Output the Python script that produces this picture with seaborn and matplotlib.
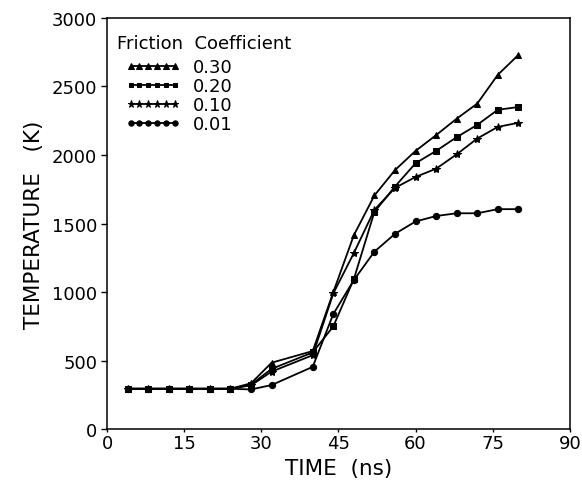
import numpy as np
import pandas as pd
import matplotlib
matplotlib.use("Agg")
import matplotlib.pyplot as plt
import seaborn as sns

# === Data ===
time_ns = [4, 8, 12, 16, 20, 24, 28, 32, 40, 44, 48, 52, 56, 60, 64, 68, 72, 76, 80]
temp_030 = [295, 295, 295, 295, 295, 295, 335, 485, 570, 1000, 1415, 1705, 1890, 2030, 2145, 2265, 2375, 2585, 2730]
temp_020 = [295, 295, 295, 295, 295, 295, 325, 440, 560, 750, 1095, 1585, 1770, 1940, 2030, 2130, 2220, 2330, 2350]
temp_010 = [295, 295, 295, 295, 295, 295, 320, 420, 540, 990, 1285, 1600, 1760, 1840, 1900, 2005, 2120, 2205, 2235]
temp_001 = [295, 295, 295, 295, 295, 295, 290, 322, 455, 840, 1088, 1295, 1425, 1515, 1555, 1575, 1575, 1605, 1605]

coefs = ["0.30", "0.20", "0.10", "0.01"]
series = [temp_030, temp_020, temp_010, temp_001]
markers = ["^", "s", "*", "o"]
msizes = [5, 4, 6, 4.5]

rows = []
for c, vals in zip(coefs, series):
    for t, v in zip(time_ns, vals):
        rows.append({"time": t, "temp": v, "coef": c})
df = pd.DataFrame(rows)

sns.set_style("ticks")
plt.rcParams['font.family'] = ['DejaVu Sans']
plt.rcParams['text.color'] = 'black'
plt.rcParams['axes.labelcolor'] = 'black'

fig = plt.figure(figsize=(5.82, 4.85), dpi=100)
ax = fig.add_axes([0.184, 0.113, 0.795, 0.848])

for c, m, ms in zip(coefs, markers, msizes):
    sns.lineplot(data=df[df["coef"] == c], x="time", y="temp", ax=ax,
                 color="black", marker=m, markersize=ms, markeredgecolor="black",
                 linewidth=1.3, label=c)

ax.set_xlim(0, 90)
ax.set_ylim(0, 3000)
ax.set_xticks(range(0, 91, 15))
ax.set_yticks(range(0, 3001, 500))
ax.tick_params(axis="both", labelsize=13, colors="black", width=1)
ax.tick_params(axis="x", direction="out", length=2.5, pad=1)
ax.tick_params(axis="y", direction="out", length=4.5, pad=2.5)
for s in ax.spines.values():
    s.set_visible(True)
    s.set_linewidth(1.1)
    s.set_color("black")

ax.set_xlabel("TIME  (ns)", fontsize=15.5, labelpad=4, color="black")
ax.set_ylabel("TEMPERATURE   (K)", fontsize=15.5, labelpad=6, color="black")

# legend title drawn as text, entries indented below it
ax.text(0.0216, 0.939, "Friction  Coefficient", transform=ax.transAxes,
        fontsize=13, ha="left", va="center", color="black")
leg = ax.legend(loc="upper left", bbox_to_anchor=(0.0389, 0.902), frameon=False,
                numpoints=6, handlelength=3.05, fontsize=13,
                borderaxespad=0, borderpad=0, labelspacing=0.05,
                handletextpad=0.72, markerscale=0.85)
for t in leg.get_texts():
    t.set_color("black")

fig.savefig("out.png", dpi=100)
